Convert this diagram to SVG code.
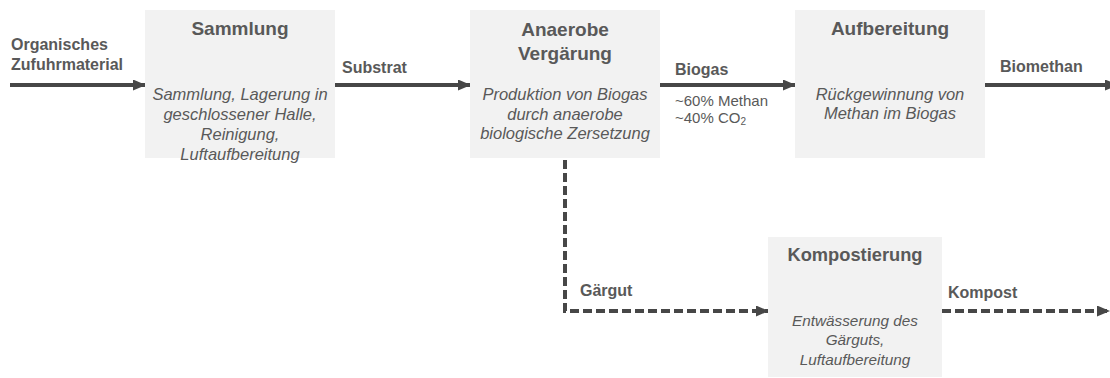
<svg xmlns="http://www.w3.org/2000/svg" width="1110" height="378" viewBox="0 0 1110 378">
<style>
.box{fill:#f2f2f2}
.t{font-family:"Liberation Sans",Arial,sans-serif;font-weight:bold;font-size:19px;fill:#595959;text-anchor:middle}
.d{font-family:"Liberation Sans",Arial,sans-serif;font-style:italic;font-size:16.5px;fill:#595959;text-anchor:middle}
.l{font-family:"Liberation Sans",Arial,sans-serif;font-weight:bold;font-size:16px;fill:#595959}
.s{font-family:"Liberation Sans",Arial,sans-serif;font-size:15px;fill:#595959}
.ln{stroke:#474747;stroke-width:4;fill:none}
.dash{stroke-dasharray:9 4}
</style>
<defs>
<marker id="ah" markerWidth="13" markerHeight="11" refX="12" refY="5.5" orient="auto" markerUnits="userSpaceOnUse">
<path d="M0,0 L13,5.5 L0,11 Z" fill="#474747"/>
</marker>
</defs>
<g id="connectors">
<path class="ln" d="M10,85 H145" marker-end="url(#ah)"/>
<path class="ln" d="M335,85 H470" marker-end="url(#ah)"/>
<path class="ln" d="M660,85 H795" marker-end="url(#ah)"/>
<path class="ln" d="M985,85 H1117" marker-end="url(#ah)"/>
<path class="ln dash" d="M565,160 V311 H768" marker-end="url(#ah)"/>
<path class="ln dash" d="M942,311 H1109" marker-end="url(#ah)"/>
</g>
<g id="labels">
<text class="l" x="11" y="50">Organisches</text>
<text class="l" x="11" y="70">Zufuhrmaterial</text>
<text class="l" x="342" y="73">Substrat</text>
<text class="l" x="675" y="75">Biogas</text>
<text class="s" x="675" y="106">~60% Methan</text>
<text class="s" x="675" y="123">~40% CO<tspan font-size="10" dy="2">2</tspan></text>
<text class="l" x="1000" y="72">Biomethan</text>
<text class="l" x="580" y="296">Gärgut</text>
<text class="l" x="948" y="298">Kompost</text>
</g>
<g id="sammlung">
<rect class="box" x="145" y="10" width="190" height="148"/>
<text class="t" x="240" y="35">Sammlung</text>
<text class="d" x="240" y="100">Sammlung, Lagerung in</text>
<text class="d" x="240" y="120">geschlossener Halle,</text>
<text class="d" x="240" y="140">Reinigung,</text>
<text class="d" x="240" y="160">Luftaufbereitung</text>
</g>
<g id="anaerobe">
<rect class="box" x="470" y="10" width="190" height="148"/>
<text class="t" x="565" y="36">Anaerobe</text>
<text class="t" x="565" y="60">Vergärung</text>
<text class="d" x="565" y="100">Produktion von Biogas</text>
<text class="d" x="565" y="120">durch anaerobe</text>
<text class="d" x="565" y="139">biologische Zersetzung</text>
</g>
<g id="aufbereitung">
<rect class="box" x="795" y="10" width="190" height="148"/>
<text class="t" x="890" y="35">Aufbereitung</text>
<text class="d" x="890" y="100">Rückgewinnung von</text>
<text class="d" x="890" y="119">Methan im Biogas</text>
</g>
<g id="kompostierung">
<rect class="box" x="768" y="237" width="174" height="140"/>
<text class="t" x="855" y="261" style="font-size:18.3px">Kompostierung</text>
<text class="d" x="855" y="326" style="font-size:15.3px">Entwässerung des</text>
<text class="d" x="855" y="345" style="font-size:15.3px">Gärguts,</text>
<text class="d" x="855" y="365" style="font-size:15.3px">Luftaufbereitung</text>
</g>
</svg>
